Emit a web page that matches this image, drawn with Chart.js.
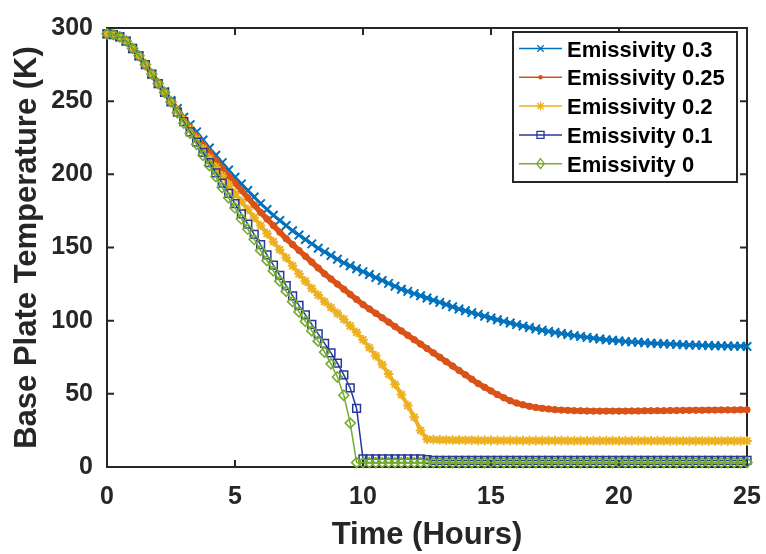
<!DOCTYPE html>
<html>
<head>
<meta charset="utf-8">
<title>Base plate temperature</title>
<script src="https://cdn.jsdelivr.net/npm/chart.js@4.4.0/dist/chart.umd.min.js"></script>
<style>
    html, body { margin: 0; padding: 0; background: #fff; }
    #wrap { width: 766px; height: 554px; }
</style>
</head>
<body>
<div id="wrap"><canvas id="tempChart" width="766" height="554"></canvas></div>
<script>
// time axis (hours), one sample every quarter hour
const times = [
    0, 0.25, 0.5, 0.75, 1, 1.25, 1.5, 1.75,
    2, 2.25, 2.5, 2.75, 3, 3.25, 3.5, 3.75,
    4, 4.25, 4.5, 4.75, 5, 5.25, 5.5, 5.75,
    6, 6.25, 6.5, 6.75, 7, 7.25, 7.5, 7.75,
    8, 8.25, 8.5, 8.75, 9, 9.25, 9.5, 9.75,
    10, 10.25, 10.5, 10.75, 11, 11.25, 11.5, 11.75,
    12, 12.25, 12.5, 12.75, 13, 13.25, 13.5, 13.75,
    14, 14.25, 14.5, 14.75, 15, 15.25, 15.5, 15.75,
    16, 16.25, 16.5, 16.75, 17, 17.25, 17.5, 17.75,
    18, 18.25, 18.5, 18.75, 19, 19.25, 19.5, 19.75,
    20, 20.25, 20.5, 20.75, 21, 21.25, 21.5, 21.75,
    22, 22.25, 22.5, 22.75, 23, 23.25, 23.5, 23.75,
    24, 24.25, 24.5, 24.75, 25
];

const emis03 = [
    296, 295.5, 294, 291, 286, 281, 275, 268.5,
    262, 256.5, 250.5, 245, 239, 234, 229, 223.5,
    218, 213, 208, 203, 198, 193.5, 189, 184.5,
    180, 176, 172, 168.5, 165, 161.5, 158.5, 155.5,
    152.5, 149.5, 147, 144.5, 142, 139.5, 137.5, 135.5,
    133.5, 131.5, 129.5, 127.5, 125.5, 123.5, 121.5, 120,
    118.5, 117, 115.5, 114, 112.5, 111, 109.5, 108,
    106.8, 105.5, 104.3, 103, 101.8, 100.6, 99.5, 98.4,
    97.3, 96.3, 95.3, 94.4, 93.5, 92.7, 91.9, 91.2,
    90.5, 89.8, 89.2, 88.6, 88, 87.5, 87, 86.6,
    86.2, 85.8, 85.5, 85.2, 84.9, 84.6, 84.4, 84.2,
    84, 83.8, 83.6, 83.4, 83.3, 83.1, 83, 82.9,
    82.8, 82.7, 82.6, 82.5, 82.4
];

const emis025 = [
    296, 295.5, 294, 291, 286, 281, 275, 268.5,
    262, 256, 250, 244, 238, 232, 226, 220.5,
    215, 209.5, 204, 199, 194, 189, 184, 179,
    174, 169.5, 165, 160.5, 156, 152, 148, 144,
    140, 136, 132, 128.5, 125, 121.5, 118, 114.5,
    111, 108, 105, 102, 99, 96, 93, 90,
    87, 84, 81, 78, 75, 72, 69, 66,
    63, 60, 57, 54.5, 52, 49.5, 47.3, 45.3,
    43.7, 42.5, 41.5, 40.7, 40.1, 39.6, 39.2, 38.9,
    38.7, 38.5, 38.4, 38.3, 38.2, 38.2, 38.2, 38.2,
    38.2, 38.2, 38.3, 38.3, 38.4, 38.4, 38.5, 38.5,
    38.6, 38.6, 38.7, 38.7, 38.8, 38.8, 38.9, 38.9,
    39, 39, 39, 39.1, 39.1
];

const emis02 = [
    296, 295.5, 294, 291, 286, 281, 275, 268.5,
    262, 256, 250, 243.5, 237, 230.5, 224, 217.5,
    211, 205, 199, 193, 187, 181.5, 176, 170.5,
    165, 159.5, 154, 148.5, 143, 137.5, 132, 127,
    122, 117.5, 113, 109, 105, 101, 96.5, 92,
    87, 81.5, 76, 70, 63.5, 56.5, 49.5, 42,
    34, 25, 19, 18.8, 18.6, 18.5, 18.4, 18.4,
    18.3, 18.3, 18.2, 18.2, 18.2, 18.1, 18.1, 18.1,
    18, 18, 18, 18, 18, 18, 18, 18,
    17.9, 17.9, 17.9, 17.9, 17.9, 17.9, 17.9, 17.9,
    17.9, 17.9, 17.9, 17.9, 17.9, 17.9, 17.9, 17.9,
    17.8, 17.8, 17.8, 17.8, 17.8, 17.8, 17.8, 17.8,
    17.8, 17.8, 17.8, 17.8, 17.8
];

const emis01 = [
    296, 295.5, 294, 291, 286, 281, 275, 268.5,
    262, 256, 249.5, 242.5, 236, 229, 222, 215,
    208, 201, 194, 187, 180, 173, 166, 159,
    152, 145, 138, 131, 124, 117, 110.5, 104,
    97.5, 91, 84.5, 78, 71, 63, 54, 40,
    5.5, 5.5, 5.5, 5.5, 5.5, 5.5, 5.5, 5.5,
    5.5, 5.5, 5, 4.5, 4.5, 4.5, 4.5, 4.5,
    4.5, 4.5, 4.5, 4.5, 4.5, 4.5, 4.5, 4.5,
    4.5, 4.5, 4.5, 4.5, 4.5, 4.5, 4.5, 4.5,
    4.5, 4.5, 4.5, 4.5, 4.5, 4.5, 4.5, 4.5,
    4.5, 4.5, 4.5, 4.5, 4.5, 4.5, 4.5, 4.5,
    4.5, 4.5, 4.5, 4.5, 4.5, 4.5, 4.5, 4.5,
    4.5, 4.5, 4.5, 4.5, 4.5
];

const emis0 = [
    296, 295.5, 294, 291, 286, 281, 275, 268.5,
    262, 256, 249.5, 242, 235, 228, 220.5, 213,
    206, 198.5, 191, 184, 177, 169.5, 162.5, 155.5,
    148, 141, 134, 127, 120, 113, 106, 99.5,
    93, 86, 78.5, 70.5, 61.5, 49, 30, 3,
    3, 3, 3, 3, 3, 3, 3, 3,
    3, 3, 3, 3, 3, 3, 3, 3,
    3, 3, 3, 3, 3, 3, 3, 3,
    3, 3, 3, 3, 3, 3, 3, 3,
    3, 3, 3, 3, 3, 3, 3, 3,
    3, 3, 3, 3, 3, 3, 3, 3,
    3, 3, 3, 3, 3, 3, 3, 3,
    3, 3, 3, 3, 3
];

const seriesNames = ['Emissivity 0.3', 'Emissivity 0.25', 'Emissivity 0.2', 'Emissivity 0.1', 'Emissivity 0'];
const xTickValues = [0, 5, 10, 15, 20, 25];
const yTickValues = [0, 50, 100, 150, 200, 250, 300];

const FONT = '"Liberation Sans", Arial, Helvetica, sans-serif';
const INK = '#262626';

function toPoints(values) {
    return times.map((t, i) => ({ x: t, y: values[i] }));
}

// markers for the legend, same shapes as chart.js point styles
function drawMarker(ctx, style, x, y, r) {
    ctx.beginPath();
    if (style === 'crossRot' || style === 'star') {
        const d = r * Math.SQRT1_2;
        ctx.moveTo(x - d, y - d); ctx.lineTo(x + d, y + d);
        ctx.moveTo(x + d, y - d); ctx.lineTo(x - d, y + d);
        if (style === 'star') {
            ctx.moveTo(x - r, y); ctx.lineTo(x + r, y);
            ctx.moveTo(x, y - r); ctx.lineTo(x, y + r);
        }
        ctx.stroke();
    } else if (style === 'circle') {
        ctx.arc(x, y, r, 0, Math.PI * 2);
        ctx.fill();
    } else if (style === 'rect') {
        const s = r * Math.SQRT1_2;
        ctx.rect(x - s, y - s, 2 * s, 2 * s);
        ctx.stroke();
    } else if (style === 'rectRot') {
        ctx.moveTo(x - r * 0.75, y); ctx.lineTo(x, y - r);
        ctx.lineTo(x + r * 0.75, y); ctx.lineTo(x, y + r);
        ctx.closePath();
        ctx.stroke();
    }
}

const legendSizes = { crossRot: 4.5, circle: 2.2, star: 4.5, rect: 5, rectRot: 5 };

const framePlugin = {
    id: 'frame',
    beforeDatasetsDraw(chart) {
        const { ctx, chartArea: a, scales: { x, y } } = chart;
        ctx.save();
        ctx.strokeStyle = INK;
        ctx.lineWidth = 2;
        ctx.strokeRect(a.left, a.top, a.right - a.left, a.bottom - a.top);
        ctx.beginPath();
        xTickValues.forEach(v => {
            const px = x.getPixelForValue(v);
            ctx.moveTo(px, a.bottom); ctx.lineTo(px, a.bottom - 7);
            ctx.moveTo(px, a.top); ctx.lineTo(px, a.top + 7);
        });
        yTickValues.forEach(v => {
            const py = y.getPixelForValue(v);
            ctx.moveTo(a.left, py); ctx.lineTo(a.left + 7, py);
            ctx.moveTo(a.right, py); ctx.lineTo(a.right - 7, py);
        });
        ctx.stroke();
        ctx.restore();
    }
};

const legendPlugin = {
    id: 'boxLegend',
    afterDraw(chart) {
        const { ctx, chartArea: a } = chart;
        const w = 224, h = 150;
        const bx = a.right - 10 - w, by = a.top + 4;
        ctx.save();
        ctx.fillStyle = '#fff';
        ctx.fillRect(bx, by, w, h);
        ctx.strokeStyle = INK;
        ctx.lineWidth = 2;
        ctx.strokeRect(bx, by, w, h);
        ctx.font = 'bold 22px ' + FONT;
        ctx.textBaseline = 'middle';
        chart.data.datasets.forEach((ds, i) => {
            const ly = by + 16.5 + i * 28.8;
            ctx.strokeStyle = ds.borderColor;
            ctx.fillStyle = ds.borderColor;
            ctx.lineWidth = 1.5;
            ctx.beginPath();
            ctx.moveTo(bx + 6, ly); ctx.lineTo(bx + 49, ly);
            ctx.stroke();
            ctx.lineWidth = 1.3;
            drawMarker(ctx, ds.pointStyle, bx + 27.5, ly, legendSizes[ds.pointStyle]);
            ctx.fillStyle = '#000';
            ctx.fillText(ds.label, bx + 54, ly + 2);
        });
        ctx.restore();
    }
};

function makeSet(i, values, color, style, opts) {
    return Object.assign({
        label: seriesNames[i],
        data: toPoints(values),
        borderColor: color,
        backgroundColor: color,
        pointStyle: style,
        pointBorderColor: color,
        pointBackgroundColor: color,
        borderWidth: 1.5,
        pointRadius: 4,
        pointBorderWidth: 1.5,
        tension: 0,
        clip: false,
        order: 4 - i
    }, opts);
}

const ctx = document.getElementById('tempChart').getContext('2d');
new Chart(ctx, {
    type: 'line',
    data: {
        datasets: [
            makeSet(0, emis03, '#0072BD', 'crossRot', { borderWidth: 3, pointRadius: 6, pointBorderWidth: 2 }),
            makeSet(1, emis025, '#D95319', 'circle', { borderWidth: 5.5, pointRadius: 3.2, pointBorderWidth: 1 }),
            makeSet(2, emis02, '#EDB120', 'star', { borderWidth: 4, pointRadius: 4.8, pointBorderWidth: 2 }),
            makeSet(3, emis01, '#26389B', 'rect', { borderWidth: 1.5, pointRadius: 5.5, pointBorderWidth: 1.5, pointBackgroundColor: 'rgba(0,0,0,0)' }),
            makeSet(4, emis0, '#77AC30', 'rectRot', { borderWidth: 1.5, pointRadius: 5, pointBorderWidth: 1.6, pointBackgroundColor: 'rgba(0,0,0,0)' })
        ]
    },
    options: {
        responsive: false,
        animation: false,
        events: [],
        layout: { padding: { top: 28, right: 19, left: 0, bottom: 0 } },
        plugins: { legend: { display: false }, tooltip: { enabled: false } },
        scales: {
            x: {
                type: 'linear',
                min: 0,
                max: 25,
                afterBuildTicks: s => { s.ticks = xTickValues.map(v => ({ value: v })); },
                afterFit: s => { s.height = 87; s.paddingLeft = 0; s.paddingRight = 0; },
                grid: { display: false, drawTicks: false },
                border: { display: false },
                ticks: { color: INK, padding: 15, maxRotation: 0, font: { family: FONT, size: 25, weight: 'bold' } },
                title: {
                    display: true,
                    text: 'Time (Hours)',
                    color: INK,
                    padding: { top: 0, bottom: 0 },
                    font: { family: FONT, size: 31, weight: 'bold' }
                }
            },
            y: {
                type: 'linear',
                min: 0,
                max: 300,
                afterBuildTicks: s => { s.ticks = yTickValues.map(v => ({ value: v })); },
                afterFit: s => { s.width = 107; s.paddingTop = 0; s.paddingBottom = 0; },
                grid: { display: false, drawTicks: false },
                border: { display: false },
                ticks: { color: INK, padding: 14, font: { family: FONT, size: 25, weight: 'bold' } },
                title: {
                    display: true,
                    text: 'Base Plate Temperature (K)',
                    color: INK,
                    padding: { top: 9, bottom: 0 },
                    font: { family: FONT, size: 31, weight: 'bold' }
                }
            }
        }
    },
    plugins: [framePlugin, legendPlugin]
});
</script>
</body>
</html>
